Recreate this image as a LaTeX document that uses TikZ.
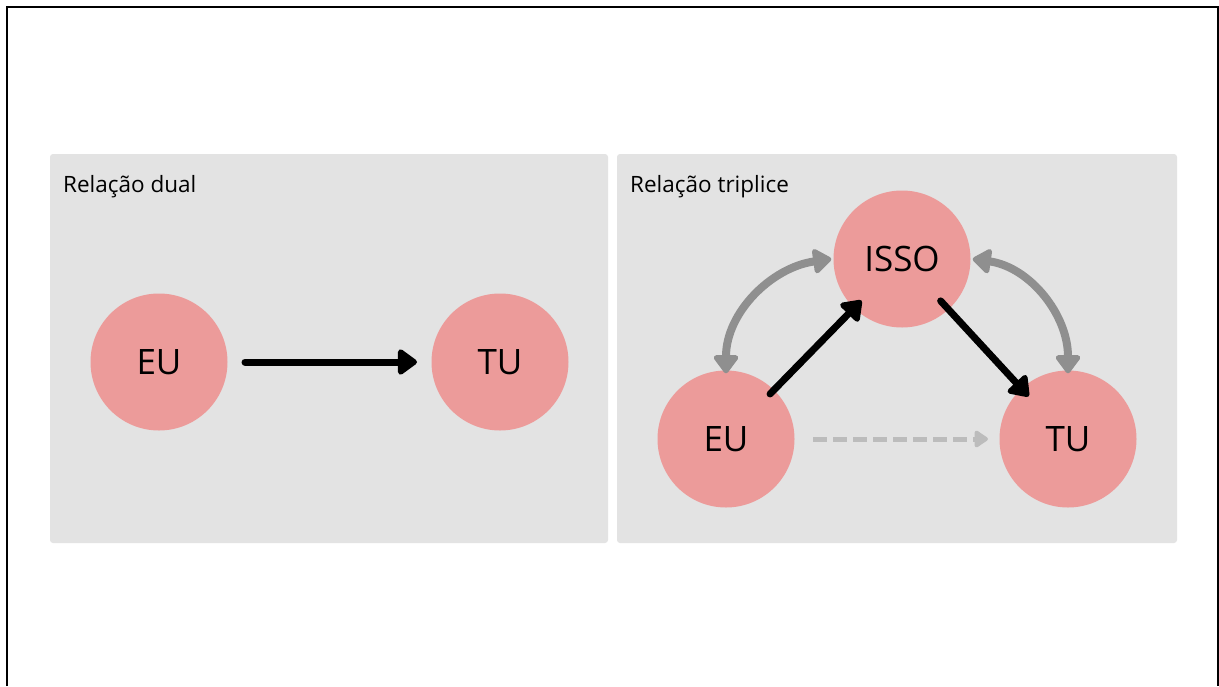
\documentclass[tikz,border=0pt]{standalone}
\usepackage{fontspec}
\setmainfont{Open Sans}
\usetikzlibrary{arrows.meta}
\definecolor{panelgray}{HTML}{E3E3E3}
\definecolor{pinkfill}{HTML}{EC9B9A}
\definecolor{arcgray}{HTML}{8F8F8F}
\definecolor{dashgray}{HTML}{BCBCBC}
\begin{document}
\begin{tikzpicture}[x=1pt,y=-1pt,
  panel/.style={fill=panelgray,rounded corners=3pt},
  person/.style={circle,fill=pinkfill,minimum size=137pt,inner sep=0pt,font=\fontsize{35}{40}\selectfont},
  paneltitle/.style={anchor=base west,inner sep=0pt,font=\fontsize{22.5}{26}\selectfont},
  blackarrow/.style={line width=7pt,line cap=round,line join=round,-{Triangle[round,length=21pt,width=29pt]}},
  grayarrow/.style={arcgray,line width=8pt,{Triangle[round,length=20pt,width=28pt]}-{Triangle[round,length=20pt,width=28pt]}},
  dasharrow/.style={dashgray,line width=5pt,dash pattern=on 14pt off 6pt,-{Triangle[round,length=15pt,width=19pt]}}
]
\useasboundingbox (0,0) rectangle (1219,686);
\fill[white] (0,0) rectangle (1219,686);
\draw[line width=2pt] (7,686) -- (7,7) -- (1218,7) -- (1218,686);
% panels
\fill[panel] (50,154) rectangle (608,543);
\fill[panel] (617,154) rectangle (1177,543);
\node[paneltitle] (t1) at (63,192) {Relação dual};
\node[paneltitle] (t2) at (630,192) {Relação triplice};
% left panel
\node[person] (eu1) at (159,362) {EU};
\node[person] (tu1) at (500,362) {TU};
\draw[blackarrow,shorten <=86pt,shorten >=83pt] (eu1.center) -- (tu1.center);
% right panel
\node[person] (isso) at (902,259) {ISSO};
\node[person] (eu2) at (726,439) {EU};
\node[person] (tu2) at (1068,439) {TU};
\draw[blackarrow,shorten <=63pt,shorten >=58pt] (eu2.center) -- (isso.center);
\draw[blackarrow,shorten <=57pt,shorten >=58pt] (isso.center) -- (tu2.center);
\draw[grayarrow] ([yshift=-3pt]eu2.north) to[out=90,in=188] ([xshift=-2pt]isso.west);
\draw[grayarrow] ([xshift=2pt]isso.east) to[out=-8,in=90] ([yshift=-3pt]tu2.north);
\draw[dasharrow,shorten <=87pt,shorten >=80pt] (eu2.center) -- (tu2.center);
\end{tikzpicture}
\end{document}
